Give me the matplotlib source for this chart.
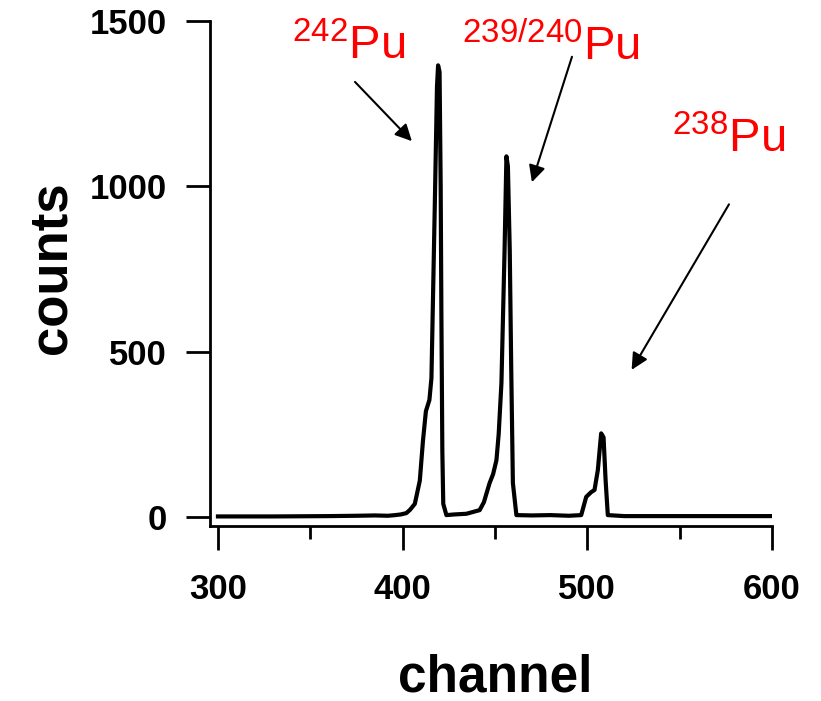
import matplotlib
matplotlib.use("Agg")
import matplotlib.pyplot as plt
from matplotlib.ticker import MultipleLocator

plt.rcParams["font.family"] = ["Liberation Sans", "DejaVu Sans"]
plt.rcParams["mathtext.fontset"] = "custom"
plt.rcParams["mathtext.rm"] = "Liberation Sans"
plt.rcParams["mathtext.it"] = "Liberation Sans:italic"
plt.rcParams["mathtext.bf"] = "Liberation Sans:bold"

# spectrum (channel, counts)
channel = [300, 330, 360, 375, 385, 392, 396, 399, 402, 404, 406.6, 409.3,
           411, 412.6, 414.5, 415.6, 417.4, 418.6, 419.2, 420, 420.6, 421.0,
           421.5, 422, 423.7, 428, 434.5, 441.7, 444, 447.1, 449, 450.8, 452,
           453.5, 455.2, 456.2, 457, 458, 458.8, 459.7, 461.6, 470, 480, 490,
           496.7, 499.4, 502, 503.9, 505.7, 507.5, 508.8, 509.9, 511.1, 520,
           560, 600]
counts = [2, 2, 3, 4, 5, 4, 6, 8, 12, 22, 40, 110,
          230, 320, 354, 420, 938, 1300, 1365, 1345, 1000, 600,
          200, 40, 6, 8, 10, 21, 45, 103, 130, 172, 250,
          405, 807, 1090, 1060, 807, 450, 103, 6, 5, 6, 4,
          6, 61, 75, 82, 142, 253, 241, 112, 6, 3,
          3, 3]

# isotope labels: text, text anchor (channel, counts), arrow start, arrow tip
labels = [
    (r"$^{242}$Pu", (370.8, 1382), (374.2, 1315), (405.0, 1136)),
    (r"$^{239/240}$Pu", (480.4, 1382), (491.7, 1391), (470.0, 1012)),
    (r"$^{238}$Pu", (576.4, 1101), (576.7, 945), (524.0, 445)),
]

fig = plt.figure(figsize=(8.21, 7.01), dpi=100)
ax = fig.add_axes([0.2558, 0.2496, 0.6845, 0.7209])

ax.plot(channel, counts, color="black", linewidth=3.0, solid_joinstyle="round")

ax.set_xlim(295.7, 600)
ax.set_ylim(-27, 1500)
ax.xaxis.set_major_locator(MultipleLocator(100))
ax.xaxis.set_minor_locator(MultipleLocator(50))
ax.yaxis.set_major_locator(MultipleLocator(500))

for side in ["top", "right"]:
    ax.spines[side].set_visible(False)
for side in ["left", "bottom"]:
    ax.spines[side].set_linewidth(2.0)

ax.tick_params(axis="both", which="major", direction="out", length=17,
               width=2.0, labelsize=25)
ax.tick_params(axis="x", which="minor", direction="out", length=9, width=2.0)
ax.tick_params(axis="x", which="major", pad=17)
ax.tick_params(axis="y", which="major", pad=14)
for lab in ax.get_xticklabels() + ax.get_yticklabels():
    lab.set_fontweight("bold")

fig.text(0.0633, 0.618, "counts", rotation=90, ha="center", va="center",
         fontsize=38, fontweight="bold")
fig.text(0.603, 0.014, "channel", ha="center", va="baseline",
         fontsize=37, fontweight="bold")

for text, pos, start, tip in labels:
    ax.text(pos[0], pos[1], text, color="#ff0000", fontsize=34,
            ha="center", va="baseline", clip_on=False)
    ax.annotate("", xy=tip, xytext=start, annotation_clip=False,
                arrowprops=dict(arrowstyle="-|>", color="black", lw=1.5,
                                mutation_scale=25, shrinkA=0, shrinkB=0))

fig.savefig("out.png", dpi=100)
plt.close(fig)
